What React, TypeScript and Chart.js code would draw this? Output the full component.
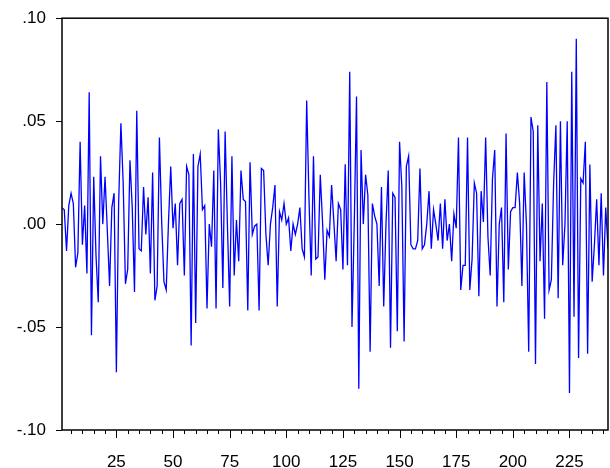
import React, { useEffect, useRef } from "react";
import { Chart, registerables } from "chart.js";

Chart.register(...registerables);

const values = [
  0.008, 0.007, -0.013, 0.009, 0.015, 0.010, -0.021, -0.014, 0.040, -0.010, 0.009, -0.024, 0.064, -0.054, 0.023, -0.015, -0.038, 0.033, 0.000, 0.023, -0.003, -0.030, 0.008, 0.015, -0.072,
  0.010, 0.049, 0.020, -0.029, -0.022, 0.031, 0.008, -0.033, 0.055, -0.012, -0.013, 0.018, -0.005, 0.013, -0.024, 0.025, -0.037, -0.030, 0.042, 0.001, -0.028, -0.032, 0.001, 0.028, -0.002,
  0.010, -0.020, 0.010, 0.012, -0.025, 0.028, 0.024, -0.059, 0.034, -0.048, 0.028, 0.034, 0.007, 0.009, -0.041, 0.000, -0.011, 0.026, -0.041, 0.046, 0.020, -0.031, 0.045, 0.000, -0.040,
  0.033, -0.025, 0.002, -0.018, 0.026, 0.012, 0.011, -0.042, 0.030, -0.005, -0.001, 0.000, -0.042, 0.027, 0.026, -0.005, -0.020, 0.000, 0.008, 0.019, -0.040, 0.006, 0.002, 0.010, 0.000,
  0.003, -0.013, 0.000, -0.005, 0.000, 0.008, -0.012, -0.016, 0.060, 0.013, -0.025, 0.033, -0.017, -0.016, 0.024, 0.001, -0.027, -0.003, -0.006, 0.019, 0.001, -0.018, 0.010, 0.007, -0.022,
  0.029, -0.020, 0.074, -0.050, 0.000, 0.062, -0.080, 0.036, 0.000, 0.024, 0.014, -0.062, 0.010, 0.004, 0.000, -0.030, 0.018, -0.040, 0.000, 0.026, -0.060, 0.015, 0.013, -0.052, 0.040,
  0.018, -0.057, 0.028, 0.033, -0.010, -0.012, -0.012, -0.008, 0.027, -0.012, -0.010, 0.000, 0.016, -0.012, 0.007, 0.000, -0.008, 0.010, -0.012, 0.012, -0.008, 0.000, -0.018, 0.005, -0.002,
  0.042, -0.032, -0.020, -0.020, 0.042, -0.032, -0.017, 0.020, 0.015, -0.035, 0.016, 0.001, 0.042, -0.006, -0.025, 0.022, 0.036, -0.040, 0.000, 0.008, -0.038, 0.044, -0.022, 0.006, 0.008,
  0.008, 0.025, 0.010, -0.030, 0.025, 0.000, -0.062, 0.052, 0.045, -0.068, 0.048, -0.018, 0.010, -0.046, 0.069,
  -0.032, -0.027, 0.020, 0.048, -0.036, 0.050, -0.020, 0.000, 0.050, -0.082, 0.074, -0.045, 0.090, -0.065, 0.022,
  0.020, 0.040, -0.063, 0.029, -0.028, -0.010, 0.012, -0.020, 0.015, -0.025, 0.008, -0.012,
];

const xTicks = [25, 50, 75, 100, 125, 150, 175, 200, 225];
const yTicks = [-0.1, -0.05, 0, 0.05, 0.1];
const yTickLabels = ["-.10", "-.05", ".00", ".05", ".10"];

const frame = {
  id: "frame",
  afterDraw(chart: any) {
    const { ctx, chartArea: a, scales } = chart;
    ctx.save();
    ctx.strokeStyle = "#000";
    ctx.lineWidth = 1.5;
    ctx.strokeRect(a.left, a.top, a.right - a.left, a.bottom - a.top);
    ctx.lineWidth = 1;
    ctx.beginPath();
    for (let i = 5; i <= values.length; i += 5) {
      const x = Math.round(scales.x.getPixelForValue(i)) + 0.5;
      ctx.moveTo(x, a.bottom);
      ctx.lineTo(x, a.bottom + (i % 25 === 0 ? 8 : 4));
    }
    for (const v of yTicks) {
      const y = Math.round(scales.y.getPixelForValue(v)) + 0.5;
      ctx.moveTo(a.left, y);
      ctx.lineTo(a.left - 6, y);
    }
    ctx.stroke();
    ctx.restore();
  },
};

export default function App() {
  const ref = useRef<HTMLCanvasElement>(null);
  useEffect(() => {
    document.body.style.margin = "0";
    const chart = new Chart(ref.current!, {
      type: "line",
      data: {
        datasets: [
          {
            data: values.map((v, i) => ({ x: i + 1, y: v })),
            borderColor: "#0000ff",
            borderWidth: 1.3,
            pointRadius: 0,
            tension: 0,
          },
        ],
      },
      options: {
        responsive: false,
        animation: false,
        layout: { padding: { top: 15, right: 2, left: 0, bottom: 0 } },
        plugins: { legend: { display: false }, tooltip: { enabled: false } },
        scales: {
          x: {
            type: "linear",
            min: 1,
            max: values.length,
            afterBuildTicks: (s: any) => {
              s.ticks = xTicks.map((v) => ({ value: v }));
            },
            afterFit: (s: any) => {
              s.height = 38;
            },
            grid: { display: false },
            border: { display: false },
            ticks: { color: "#000", font: { family: "Liberation Sans", size: 17 }, padding: 14 },
          },
          y: {
            min: -0.1,
            max: 0.1,
            afterBuildTicks: (s: any) => {
              s.ticks = yTicks.map((v) => ({ value: v }));
            },
            afterFit: (s: any) => {
              s.width = 62;
            },
            grid: { display: false },
            border: { display: false },
            ticks: {
              color: "#000",
              font: { family: "Liberation Sans", size: 17 },
              padding: 8,
              callback: (v: any) => yTickLabels[yTicks.findIndex((t) => Math.abs(t - v) < 1e-9)] ?? "",
            },
          },
        },
      },
      plugins: [frame],
    });
    return () => chart.destroy();
  }, []);
  return <canvas ref={ref} width={610} height={468} style={{ display: "block" }} />;
}
